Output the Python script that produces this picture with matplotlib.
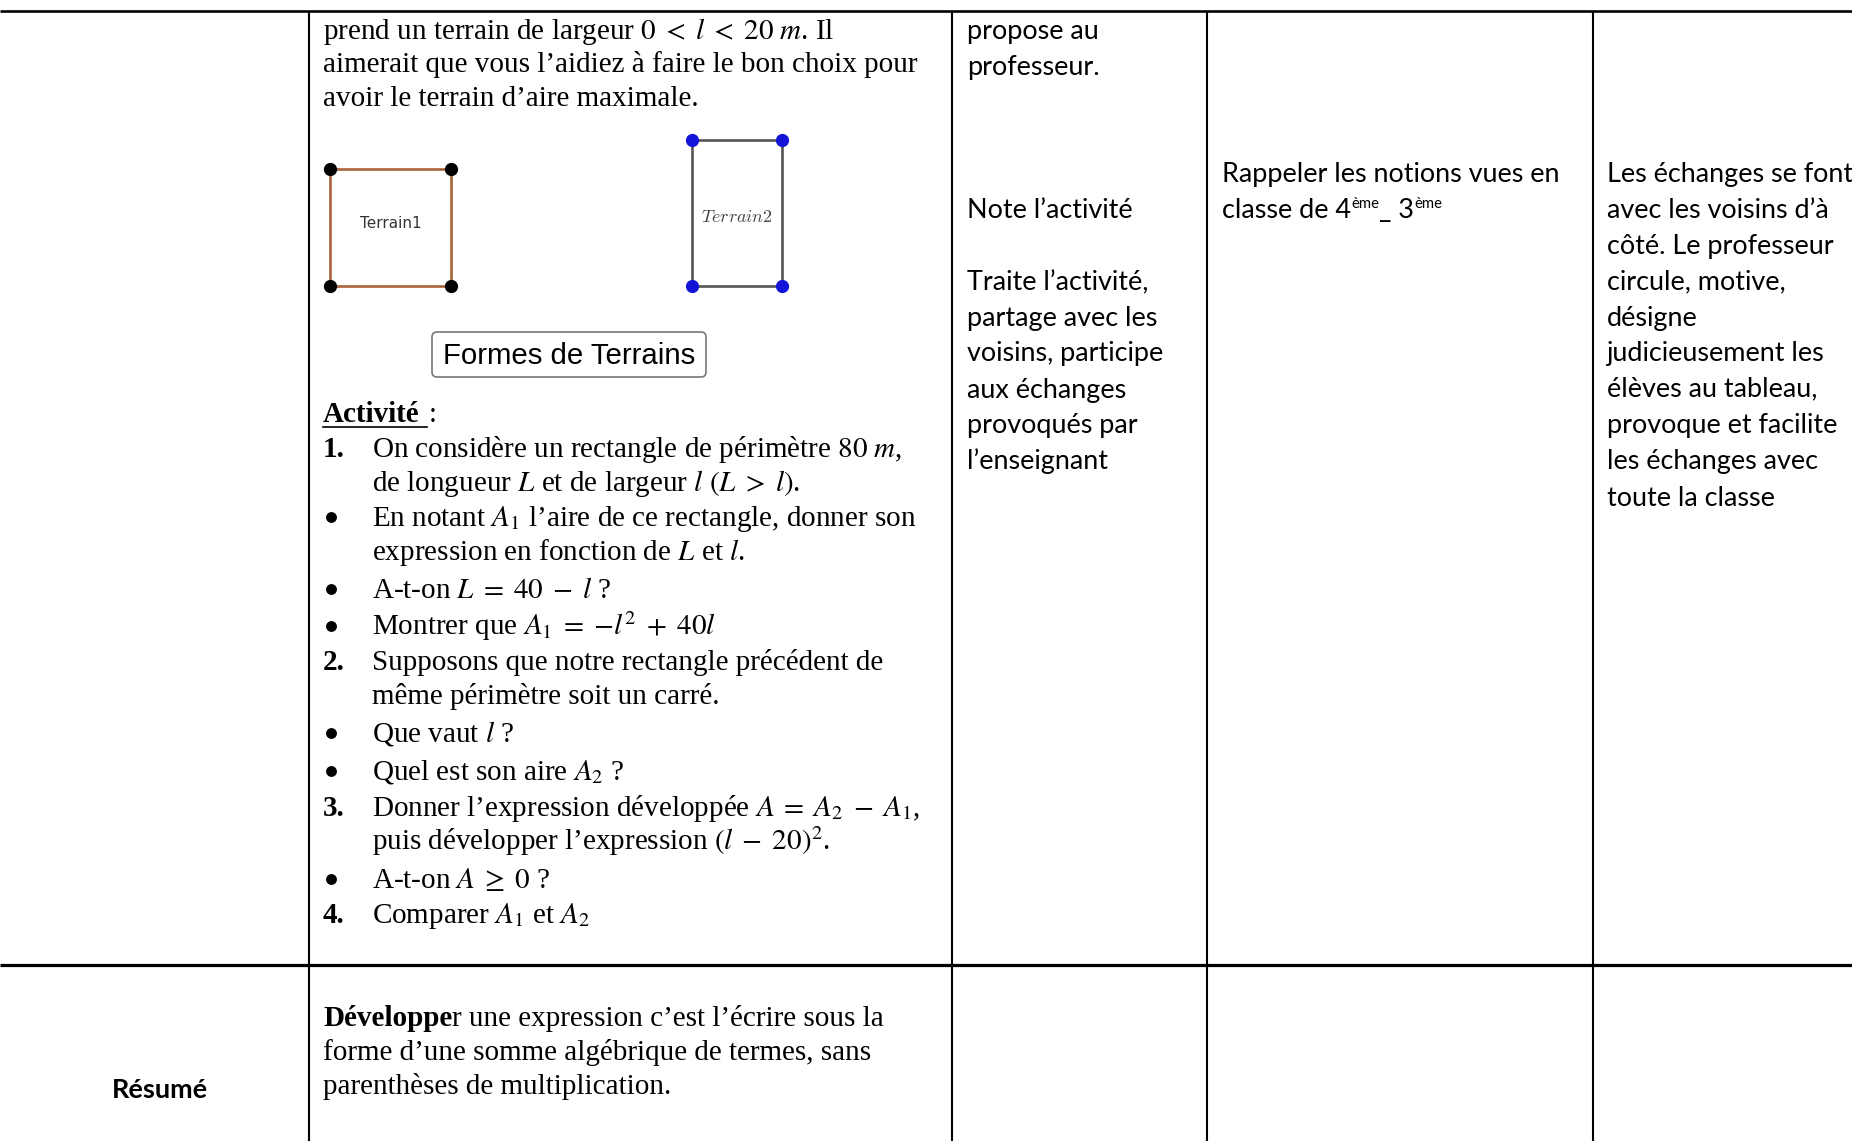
import matplotlib
matplotlib.use('Agg')
import matplotlib.pyplot as plt
from matplotlib.patches import FancyBboxPatch

plt.rcParams['mathtext.fontset'] = 'stix'

# texte de la colonne "activité"
intro_lines = [
    r"prend un terrain de largeur $0\;<\;l\;<\;20\ m$. Il",
    "aimerait que vous l’aidiez à faire le bon choix pour",
    "avoir le terrain d’aire maximale.",
]
terrain_labels = ["Terrain1", r"$Terrain2$"]
button_label = "Formes de Terrains"
activity_title = "Activité"
activity_marks = ["1.", "", "•", "", "•", "•", "2.", "", "•", "•", "3.", "", "•", "4."]
activity_lines = [
    r"On considère un rectangle de périmètre $80\ m$,",
    r"de longueur $L$ et de largeur $l$ $(L\;>\;l)$.",
    r"En notant $A_1$ l’aire de ce rectangle, donner son",
    r"expression en fonction de $L$ et $l$.",
    r"A-t-on $L\;=\;40\;-\;l$ ?",
    r"Montrer que $A_1\;=\;{-}l^2\;+\;40l$",
    "Supposons que notre rectangle précédent de",
    "même périmètre soit un carré.",
    r"Que vaut $l$ ?",
    r"Quel est son aire $A_2$ ?",
    r"Donner l’expression développée $A\;=\;A_2\;-\;A_1$,",
    r"puis développer l’expression $(l\;-\;20)^2$.",
    r"A-t-on $A\;\geq\;0$ ?",
    r"Comparer $A_1$ et $A_2$",
]
resume_title = "Résumé"
resume_bold = "Développe"
resume_lines = [
    "r une expression c’est l’écrire sous la",
    "forme d’une somme algébrique de termes, sans",
    "parenthèses de multiplication.",
]
# autres colonnes
col3_lines = ["propose au", "professeur.", "Note l’activité", "Traite l’activité,",
              "partage avec les", "voisins, participe", "aux échanges",
              "provoqués par", "l’enseignant"]
col4_first = "Rappeler les notions vues en"
col5_lines = ["Les échanges se font", "avec les voisins d’à", "côté. Le professeur",
              "circule, motive,", "désigne", "judicieusement les",
              "élèves au tableau,", "provoque et facilite",
              "les échanges avec", "toute la classe"]

W, H = 1852, 1141
fig = plt.figure(figsize=(W / 100, H / 100), dpi=100)
ax = fig.add_axes([0, 0, 1, 1])
ax.set_xlim(0, W)
ax.set_ylim(H, 0)
ax.axis('off')
renderer = fig.canvas.get_renderer()

SERIF = 'Liberation Serif'
SANS = 'Lato'
FS = 21

# sans font size fitted to the width of one line
probe = ax.text(0, 0, col4_first, family=SANS, fontsize=20)
FS_SANS = 20 * 339 / probe.get_window_extent(renderer).width
probe.remove()

# grille du tableau
for x in [309, 952, 1207, 1593]:
    ax.plot([x, x], [11, H], color='black', lw=1.5, solid_capstyle='butt')
ax.plot([0, W], [11, 11], color='black', lw=1.9, solid_capstyle='butt')
ax.plot([0, W], [965, 965], color='black', lw=2.3, solid_capstyle='butt')


def put_runs(x, y, parts):
    for s, dy, kw in parts:
        t = ax.text(x, y + dy, s, va='baseline', **kw)
        x += t.get_window_extent(renderer).width
    return x


# colonne 2 : énoncé
for s, yb in zip(intro_lines, [39, 72.5, 106]):
    ax.text(323, yb, s, family=SERIF, fontsize=FS, va='baseline')

# terrains
x1, x2, y1, y2 = 330, 451, 169, 286
ax.plot([x1, x2, x2, x1, x1], [y1, y1, y2, y2, y1], color='#a8643c', lw=1.9)
ax.plot([x1, x2, x2, x1], [y1, y1, y2, y2], 'o', color='black', ms=8.5)
ax.text((x1 + x2) / 2, 223, terrain_labels[0], family='DejaVu Sans', fontsize=11,
        color='#333333', ha='center', va='center')
x1, x2, y1, y2 = 692, 782, 140, 286
ax.plot([x1, x2, x2, x1, x1], [y1, y1, y2, y2, y1], color='#555555', lw=1.9)
ax.plot([x1, x2, x2, x1], [y1, y1, y2, y2], 'o', color='#1414d8', ms=8.5)
ax.text((x1 + x2) / 2, 217, terrain_labels[1], math_fontfamily='cm',
        fontsize=13, color='#444444', ha='center', va='center')

btn = FancyBboxPatch((432, 332), 274, 45, boxstyle='round,pad=0,rounding_size=5',
                     ec='#777777', fc='white', lw=1.2)
ax.add_patch(btn)
ax.text(569, 356, button_label, family='Liberation Sans', fontsize=21.2,
        ha='center', va='center')

# Activité
t = ax.text(323, 422, activity_title, family=SERIF, fontsize=FS, weight='bold', va='baseline')
wt = t.get_window_extent(renderer).width
ax.plot([323, 323 + wt + 7], [426.5, 426.5], color='black', lw=1.2)
ax.text(323 + wt + 9, 422, ":", family=SERIF, fontsize=FS, va='baseline')

act_base = [457, 491, 526, 560, 598, 635, 670, 704, 742, 780, 816, 850, 888, 923]
for m, s, yb in zip(activity_marks, activity_lines, act_base):
    if m == "•":
        ax.plot([331], [yb - 9], 'o', color='black', ms=6.8)
    elif m:
        ax.text(323, yb, m, family=SERIF, fontsize=FS, weight='bold', va='baseline')
    ax.text(372, yb, s, family=SERIF, fontsize=FS, va='baseline')

# Résumé
ax.text(159.5, 1098, resume_title, family=SANS, fontsize=FS_SANS, weight='bold',
        ha='center', va='baseline')
put_runs(323, 1026, [(resume_bold, 0, dict(family=SERIF, fontsize=FS, weight='bold')),
                     (resume_lines[0], 0, dict(family=SERIF, fontsize=FS))])
for s, yb in zip(resume_lines[1:], [1060, 1094]):
    ax.text(323, yb, s, family=SERIF, fontsize=FS, va='baseline')

DY = 2.5
# colonne 3
for s, yb in zip(col3_lines, [36.5, 73, 216, 288, 323.5, 359, 395.5, 431, 466.5]):
    ax.text(967, yb + DY, s, family=SANS, fontsize=FS_SANS, va='baseline')

# colonne 4
ax.text(1222, 179.5 + DY, col4_first, family=SANS, fontsize=FS_SANS, va='baseline')
sk = dict(family=SANS, fontsize=FS_SANS)
sup = dict(family=SANS, fontsize=FS_SANS * 0.55)
put_runs(1222, 216 + DY, [("classe de 4", 0, sk), ("ème", -11, sup), ("_ 3", 0, sk), ("ème", -11, sup)])

# colonne 5
for s, yb in zip(col5_lines, [179.5, 216, 251.5, 287, 323.5, 359, 394, 431, 466.5, 503]):
    ax.text(1607, yb + DY, s, family=SANS, fontsize=FS_SANS, va='baseline')

fig.savefig('out.png', dpi=100, facecolor='white')
